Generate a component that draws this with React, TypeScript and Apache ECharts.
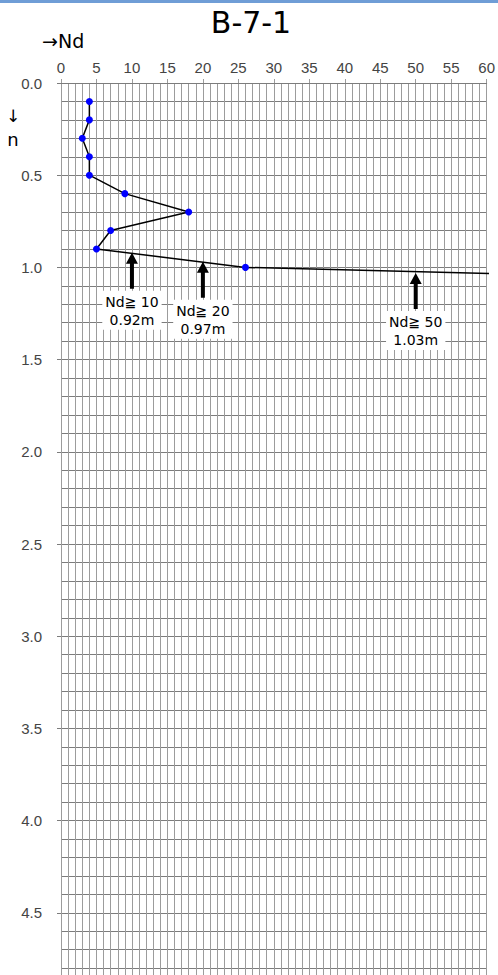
import React, { useEffect, useRef } from "react";
import * as echarts from "echarts";

const depths = [0.1, 0.2, 0.3, 0.4, 0.5, 0.6, 0.7, 0.8, 0.9, 1.0];
const ndValues = [4, 4, 3, 4, 4, 9, 18, 7, 5, 26];
const extensionNd = [26, 61];
const extensionDepth = [1.0, 1.034];
const thresholdNd = [10, 20, 50];
const thresholdDepth = [0.92, 0.97, 1.03];
const thresholdLabels = ["Nd≧ 10", "Nd≧ 20", "Nd≧ 50"];
const thresholdDepthLabels = ["0.92m", "0.97m", "1.03m"];

const VGRID = "#9c9c9c";
const HGRID = "#7c7c7c";
const LABEL_FONT = "Liberation Sans";

export default function App() {
  const ref = useRef<HTMLDivElement>(null);
  useEffect(() => {
    if (!ref.current) return;
    const chart = echarts.init(ref.current, null, { renderer: "svg" });
    const lineData = depths.map((d, i) => [ndValues[i], d]);
    const extData = extensionNd.map((n, i) => [n, extensionDepth[i]]);
    const arrowData = thresholdNd.map((n, i) => [n, thresholdDepth[i]]);
    chart.setOption({
      animation: false,
      backgroundColor: "#fff",
      graphic: [
        { type: "rect", shape: { x: 0, y: 0, width: 498, height: 3 }, style: { fill: "#6f9dd6" } },
        {
          type: "text",
          x: 251,
          y: 22,
          style: { text: "B-7-1", fontSize: 30, fontFamily: "DejaVu Sans", fill: "#000", textAlign: "center", textVerticalAlign: "middle" },
        },
        {
          type: "text",
          x: 42,
          y: 41,
          style: { text: "→Nd", fontSize: 19, fontFamily: "DejaVu Sans", fill: "#000", textAlign: "left", textVerticalAlign: "middle" },
        },
        {
          type: "text",
          x: 13,
          y: 116,
          style: { text: "↓", fontSize: 17, fontFamily: "DejaVu Sans", fill: "#000", textAlign: "center", textVerticalAlign: "middle" },
        },
        {
          type: "text",
          x: 13,
          y: 139,
          style: { text: "n", fontSize: 18, fontFamily: "DejaVu Sans", fill: "#000", textAlign: "center", textVerticalAlign: "middle" },
        },
      ],
      grid: { left: 61, top: 83, width: 430, height: 922 },
      xAxis: {
        type: "value",
        position: "top",
        min: 0,
        max: 60,
        interval: 5,
        axisLine: { show: true, lineStyle: { color: HGRID, width: 1 } },
        axisTick: { show: true, inside: false, length: 4, lineStyle: { color: VGRID } },
        axisLabel: { margin: 8, fontSize: 15, color: "#444", fontFamily: LABEL_FONT },
        splitLine: { show: true, lineStyle: { color: VGRID, width: 1 } },
        minorTick: { show: false, splitNumber: 5 },
        minorSplitLine: { show: true, lineStyle: { color: VGRID, width: 1 } },
      },
      yAxis: {
        type: "value",
        inverse: true,
        min: 0,
        max: 5,
        interval: 0.5,
        axisLine: { show: true, lineStyle: { color: VGRID, width: 1 } },
        axisTick: { show: true, inside: false, length: 4, lineStyle: { color: HGRID } },
        axisLabel: {
          margin: 19,
          fontSize: 15,
          color: "#444",
          fontFamily: LABEL_FONT,
          formatter: (v: number) => (v > 4.6 ? "" : v.toFixed(1)),
        },
        splitLine: { show: true, lineStyle: { color: HGRID, width: 1 } },
        minorTick: { show: false, splitNumber: 5 },
        minorSplitLine: { show: true, lineStyle: { color: HGRID, width: 1 } },
      },
      series: [
        {
          type: "line",
          data: extData,
          showSymbol: false,
          clip: false,
          lineStyle: { color: "#000", width: 1.5 },
          z: 3,
        },
        {
          type: "line",
          data: lineData,
          symbol: "circle",
          symbolSize: 7,
          itemStyle: { color: "#0000ff" },
          lineStyle: { color: "#000", width: 1.5 },
          z: 4,
        },
        {
          type: "scatter",
          data: arrowData,
          symbol: "path://M6,0 L12,11 L8,11 L8,36 L4,36 L4,11 L0,11 Z",
          symbolSize: [12, 36],
          symbolOffset: [0, 18],
          itemStyle: { color: "#000", opacity: 1 },
          z: 5,
          label: {
            show: true,
            position: "bottom",
            distance: 2,
            formatter: (p: any) => thresholdLabels[p.dataIndex] + "\n" + thresholdDepthLabels[p.dataIndex],
            backgroundColor: "#fff",
            padding: [2, 3, 1, 3],
            fontSize: 14,
            lineHeight: 18,
            color: "#000",
            fontFamily: "DejaVu Sans",
            align: "center",
          },
        },
      ],
    });
    return () => chart.dispose();
  }, []);
  return (
    <div
      ref={ref}
      style={{ position: "fixed", left: 0, top: 0, width: 498, height: 1015, background: "#fff" }}
    />
  );
}
